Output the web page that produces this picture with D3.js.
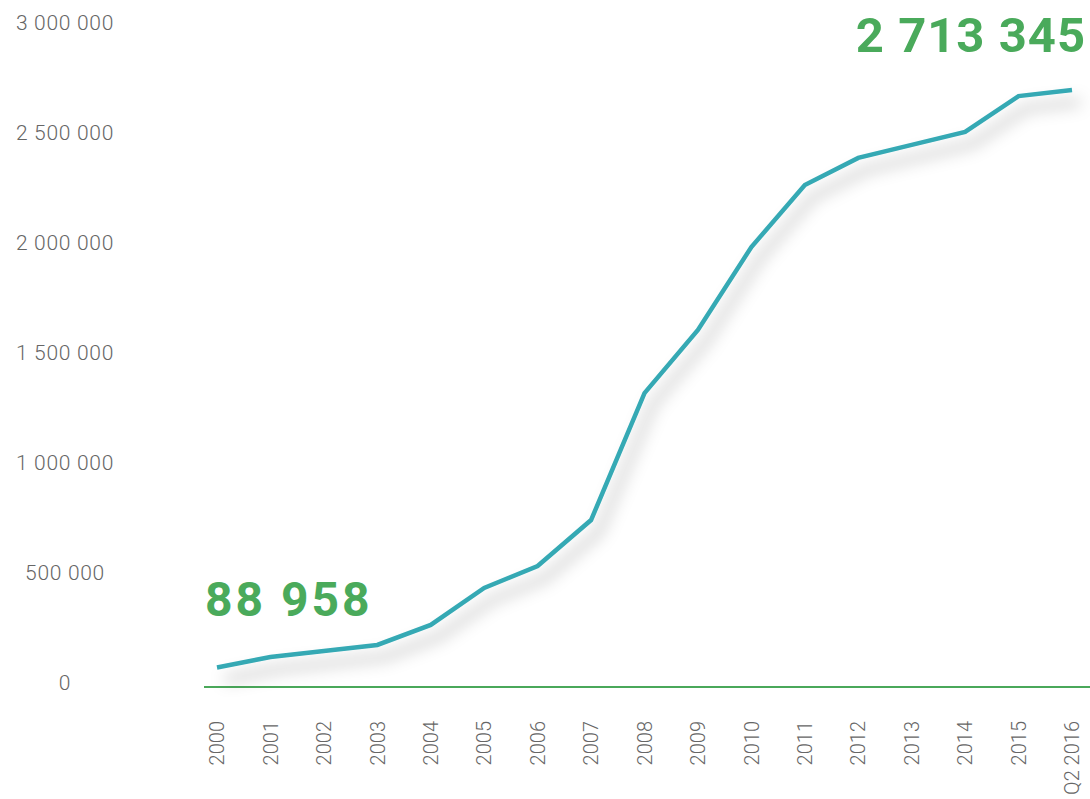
<!DOCTYPE html>
<html>
<head>
<meta charset="utf-8">
<script src="https://cdn.jsdelivr.net/npm/d3@7"></script>
<style>
  body { margin: 0; background: #fff; }
  svg text { font-family: Roboto, "Noto Sans", sans-serif; }
</style>
</head>
<body>
<div id="chart"></div>
<script>
// data
const years = ['2000','2001','2002','2003','2004','2005','2006','2007','2008',
               '2009','2010','2011','2012','2013','2014','2015','Q2 2016'];
const values = [88958, 136000, 164000, 191000, 282000, 450000, 550000, 759000, 1336000,
                1623000, 2000000, 2282000, 2405000, 2464000, 2523000, 2686000, 2713345];
const yTicks = [0, 500000, 1000000, 1500000, 2000000, 2500000, 3000000];
const firstLabel = '88 958';
const lastLabel = '2 713 345';

const W = 1090, H = 799;
const svg = d3.select('#chart').append('svg')
    .attr('width', W).attr('height', H);

const x = d3.scalePoint().domain(years).range([217, 1072]);
const y = d3.scaleLinear().domain([0, 3000000]).range([687, 27]);

const fmt = v => d3.format(',')(v).replace(/,/g, ' ');

// soft shadow under the line
const defs = svg.append('defs');
const f = defs.append('filter').attr('id', 'shadow')
    .attr('x', '-10%').attr('y', '-10%').attr('width', '130%').attr('height', '130%');
f.append('feDropShadow')
    .attr('dx', 8).attr('dy', 12)
    .attr('stdDeviation', 8)
    .attr('flood-color', '#000')
    .attr('flood-opacity', 0.32);

// y labels (no axis line)
svg.append('g').selectAll('text')
    .data(yTicks).enter().append('text')
    .attr('x', 65)
    .attr('y', d => y(d) - 4)
    .attr('dy', '0.35em')
    .attr('text-anchor', 'middle')
    .style('font-size', '21px')
    .style('font-weight', 300)
    .style('letter-spacing', '0.7px')
    .style('fill', '#666')
    .text(d => fmt(d));

// x labels, rotated
svg.append('g').selectAll('text')
    .data(years).enter().append('text')
    .attr('transform', d => 'translate(' + x(d) + ',721) rotate(-90)')
    .attr('dy', '0.36em')
    .attr('text-anchor', 'end')
    .style('font-size', '20px')
    .style('font-weight', 300)
    .style('fill', '#666')
    .text(d => d);

// baseline
svg.append('line')
    .attr('x1', 204).attr('x2', W)
    .attr('y1', y(0)).attr('y2', y(0))
    .style('stroke', '#4aa85a')
    .style('stroke-width', 2);

const line = d3.line()
    .x((d, i) => x(years[i]))
    .y(d => y(d));

svg.append('path')
    .attr('d', line(values))
    .attr('filter', 'url(#shadow)')
    .style('fill', 'none')
    .style('stroke', '#35a9b4')
    .style('stroke-width', 4.5)
    .style('stroke-linejoin', 'miter');

// value callouts
svg.append('text')
    .attr('x', 205).attr('y', 616)
    .style('font-size', '48px')
    .style('font-weight', 700)
    .style('letter-spacing', '3px')
    .style('fill', '#4aaa5b')
    .text(firstLabel);

svg.append('text')
    .attr('x', 1086).attr('y', 52)
    .attr('text-anchor', 'end')
    .style('font-size', '49px')
    .style('font-weight', 700)
    .style('letter-spacing', '1px')
    .style('fill', '#4aaa5b')
    .text(lastLabel);
</script>
</body>
</html>
